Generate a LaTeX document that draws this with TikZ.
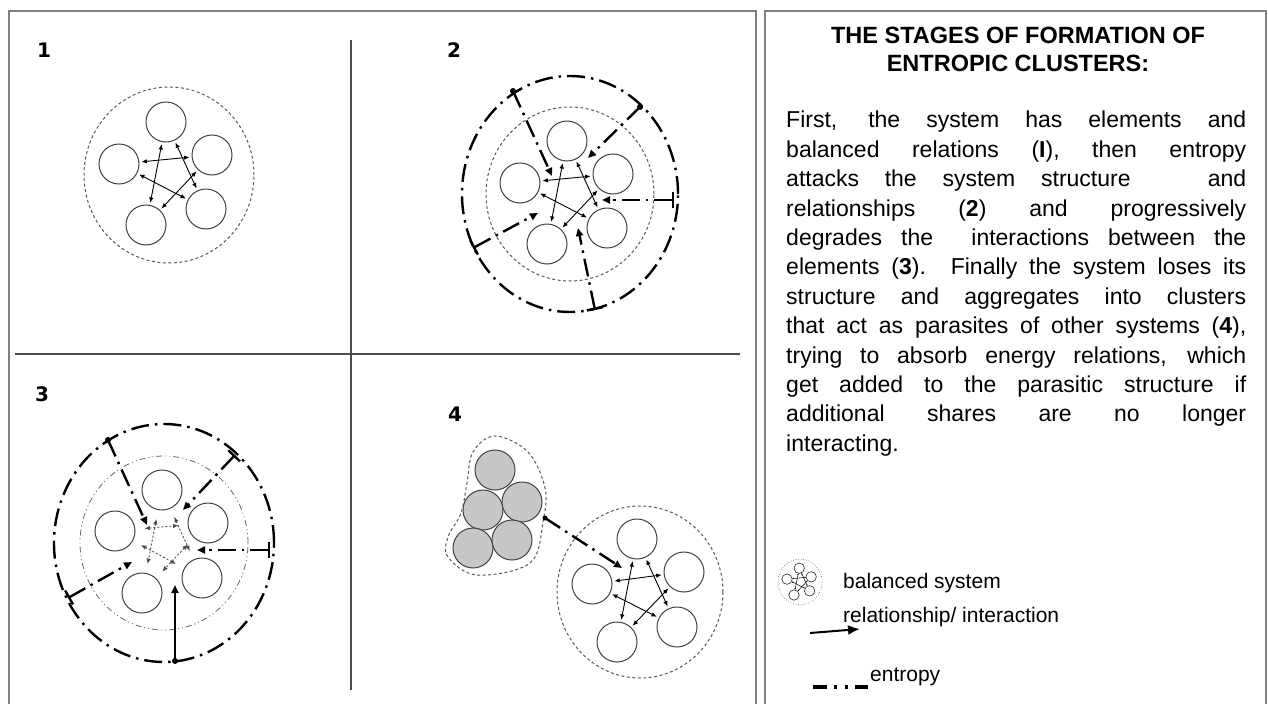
\documentclass[tikz,border=0pt]{standalone}
\usepackage{fontspec}
\setmainfont{Liberation Sans}
\newfontfamily\heavyfont{DejaVu Sans}
\usetikzlibrary{arrows.meta,positioning,calc}

\tikzset{
    elem/.style={circle, draw=black!75, line width=1pt, minimum size=40pt, inner sep=0pt},
    gelem/.style={elem, fill=black!22},
    bound/.style={draw=black!65, line width=1pt, dash pattern=on 3pt off 2.5pt},
    rel/.style={{Latex[length=5.5pt,width=4.5pt]}-{Latex[length=5.5pt,width=4.5pt]}, line width=0.9pt, shorten <=2pt, shorten >=2pt},
    weakrel/.style={rel, black!70, dash pattern=on 2pt off 2pt, shorten <=9pt, shorten >=9pt},
    entropy/.style={line width=2.4pt, dash pattern=on 18pt off 6pt on 2.5pt off 6pt},
    attack/.style={entropy, -{Triangle[length=8pt,width=7pt]}},
    tee/.style={attack, {Bar[width=16pt,line width=2.4pt]}-{Triangle[length=8pt,width=7pt]}},
    num/.style={font=\heavyfont\fontsize{20}{20}\selectfont\bfseries},
    frame/.style={draw=black!50, line width=2.5pt},
    divider/.style={draw=black!70, line width=1.2pt},
    lgtext/.style={anchor=west, inner sep=0pt, font=\fontsize{21}{21}\selectfont}
}

\begin{document}
\begin{tikzpicture}[x=1pt, y=-1pt]

\useasboundingbox (0,0) rectangle (1268,704);

% frames and dividers
\draw [frame] (9,704) -- (9,11) -- (756,11) -- (756,704);
\draw [frame] (765,704) -- (765,11) -- (1266,11) -- (1266,704);
\draw [divider] (351,40) -- (351,690);
\draw [divider] (15,354) -- (740,354);

% stage numbers
\node [num] (n1) at (44,50) {1};
\node [num] (n2) at (454,50) {2};
\node [num] (n3) at (42,394) {3};
\node [num] (n4) at (455,414) {4};

% stage 1: balanced system
\begin{scope}[shift={(169,175)}]
    \draw [bound] (0,0) ellipse [x radius=85pt, y radius=88pt];
    \foreach \n/\px/\py in {t/-3/-53, r/43/-20, l/-50/-11, br/37/34, bl/-23/50}
        \node [elem] (a\n) at (\px,\py) {};
    \foreach \u/\v in {t/bl, t/br, l/r, l/br, r/bl}
        \draw [rel] (a\u) -- (a\v);
\end{scope}

% stage 2: entropy attacks
\begin{scope}[shift={(570,194)}]
    \draw [bound] (0,0) ellipse [x radius=84pt, y radius=87pt];
    \draw [entropy] (0,0) ellipse [x radius=108pt, y radius=118pt];
    \foreach \n/\px/\py in {t/-3/-53, r/43/-20, l/-50/-11, br/37/34, bl/-23/50}
        \node [elem] (b\n) at (\px,\py) {};
    \foreach \u/\v in {t/bl, t/br, l/r, l/br, r/bl}
        \draw [rel] (b\u) -- (b\v);
    % attack points
    \coordinate (bo1) at (-57,-103);  \coordinate (bi1) at (-18,-18);
    \coordinate (bo2) at (70,-87);    \coordinate (bi2) at (18,-36);
    \coordinate (bo3) at (104,6);     \coordinate (bi3) at (32,6);
    \coordinate (bo4) at (25,116);    \coordinate (bi4) at (8,34);
    \coordinate (bo5) at (-97,54);    \coordinate (bi5) at (-32,19);
    \draw [attack] (bo1) -- (bi1);
    \draw [attack] (bo2) -- (bi2);
    \draw [tee] (bo3) -- (bi3);
    \draw [tee] (bo4) -- (bi4);
    \draw [tee] (bo5) -- (bi5);
    \fill (bo1) circle (3pt);
    \fill (bo2) circle (3pt);
\end{scope}

% stage 3: degraded interactions
\begin{scope}[shift={(164,543)}]
    \draw [draw=black!60, line width=0.8pt, dash pattern=on 6pt off 3pt on 1pt off 3pt on 1pt off 3pt] (0,0) ellipse [x radius=84pt, y radius=87pt];
    \draw [entropy] (0,0) ellipse [x radius=110pt, y radius=119pt];
    \foreach \n/\px/\py in {t/-2/-53, r/44/-20, l/-49/-12, br/38/35, bl/-22/50}
        \node [elem] (c\n) at (\px,\py) {};
    \foreach \u/\v in {t/bl, t/br, l/r, l/br, r/bl}
        \draw [weakrel] (c\u) -- (c\v);
    % attack points
    \coordinate (co1) at (-56,-103);  \coordinate (ci1) at (-17,-18);
    \coordinate (co2) at (71,-88);    \coordinate (ci2) at (19,-33);
    \coordinate (co3) at (106,7);     \coordinate (ci3) at (33,7);
    \coordinate (co4) at (11,118);    \coordinate (ci4) at (11,42);
    \coordinate (co5) at (-96,55);    \coordinate (ci5) at (-32,19);
    \draw [attack] (co1) -- (ci1);
    \draw [tee] (co2) -- (ci2);
    \draw [tee] (co3) -- (ci3);
    \draw [attack, solid] (co4) -- (ci4);
    \draw [tee] (co5) -- (ci5);
    \fill (co1) circle (3pt);
    \fill (co4) circle (3pt);
\end{scope}

% stage 4: parasitic cluster
\foreach \n/\px/\py in {1/495/470, 2/483/510, 3/522/502, 4/473/548, 5/512/540}
    \node [gelem] (g\n) at (\px,\py) {};
\draw [bound] plot [smooth cycle, tension=0.6] coordinates {(495,436) (528,452) (545,488) (543,522) (530,563) (477,575) (448,557) (448,537) (461,513) (467,483) (473,452)};

\begin{scope}[shift={(640,592)}]
    \draw [bound] (0,0) ellipse [x radius=83pt, y radius=86pt];
    \foreach \n/\px/\py in {t/-3/-53, r/44/-20, l/-48/-8, br/37/35, bl/-23/50}
        \node [elem] (d\n) at (\px,\py) {};
    \foreach \u/\v in {t/bl, t/br, l/r, l/br, r/bl}
        \draw [rel] (d\u) -- (d\v);
\end{scope}
\coordinate (ds) at (545,518);
\coordinate (de) at (622,568);
\draw [attack] (ds) -- (de);
\fill (ds) circle (2.5pt);

% text panel
\node [font=\fontsize{23.5}{28}\selectfont\bfseries, align=center] (title) at (1018,49)
    {THE STAGES OF FORMATION OF\\ENTROPIC CLUSTERS:};
\node [anchor=north west, inner sep=0pt, text width=460pt, align=justify,
       font=\fontsize{23}{29.4}\selectfont] (body) at (786,111)
    {First, the system has elements and\linebreak
     balanced relations (\textbf{I}), then entropy\linebreak
     attacks the system structure \ \ and\linebreak
     relationships (\textbf{2}) and progressively\linebreak
     degrades the \ interactions between the\linebreak
     elements (\textbf{3}). Finally the system loses its\linebreak
     structure and aggregates into clusters\linebreak
     that act as parasites of other systems (\textbf{4}),\linebreak
     trying to absorb energy relations, which\linebreak
     get added to the parasitic structure if\linebreak
     additional shares are no longer\linebreak
     interacting.};

% legend
\begin{scope}[shift={(800,582)}, scale=0.26, transform shape]
    \draw [draw=black!70, line width=0.6pt, dotted] (0,0) ellipse [x radius=85pt, y radius=88pt];
    \foreach \n/\px/\py in {t/-3/-53, r/43/-20, l/-50/-11, br/37/34, bl/-23/50}
        \node [elem, line width=0.7pt] (e\n) at (\px,\py) {};
    \foreach \u/\v in {t/bl, t/br, l/r, l/br, r/bl}
        \draw [{Latex[length=1.5pt,width=1.5pt]}-{Latex[length=1.5pt,width=1.5pt]}, line width=0.5pt] (e\u) -- (e\v);
\end{scope}
\node [lgtext] (lg1) at (843,583) {balanced system};

\coordinate (la1) at (810,633);
\coordinate (la2) at (860,629);
\draw [-{Latex[length=12pt,width=10pt]}, line width=2pt] (la1) -- (la2);
\node [lgtext] (lg2) at (843,617) {relationship/ interaction};

\coordinate (le1) at (813,687);
\coordinate (le2) at (868,687);
\draw [line width=3.6pt, dash pattern=on 14pt off 7pt on 3pt off 8pt on 3pt off 7pt on 13pt off 20pt] (le1) -- (le2);
\node [lgtext] (lg3) at (870,677) {entropy};

\end{tikzpicture}
\end{document}
